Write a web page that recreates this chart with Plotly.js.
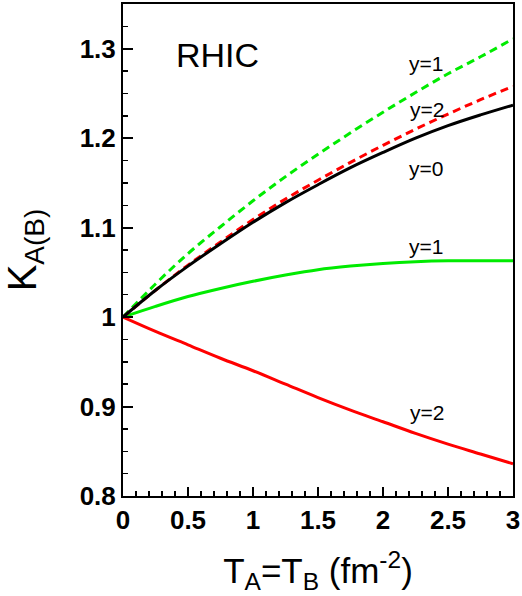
<!DOCTYPE html>
<html>
<head>
<meta charset="utf-8">
<script src="https://cdn.plot.ly/plotly-3.0.1.min.js"></script>
<style>html,body{margin:0;padding:0;background:#fff;}#plot{width:522px;height:596px;}</style>
</head>
<body>
<div id="plot"></div>
<script>
// T_A = T_B (fm^-2)
const tAB = [0, 0.25, 0.5, 0.75, 1.0, 1.25, 1.5, 1.75, 2.0, 2.25, 2.5, 2.75, 3.0];
// K_A(B) curves
const kY0 = [1.000, 1.030, 1.057, 1.082, 1.106, 1.128, 1.148, 1.167, 1.184, 1.200, 1.214, 1.226, 1.237];
const kY1dash = [1.000, 1.037, 1.071, 1.101, 1.130, 1.157, 1.182, 1.206, 1.229, 1.251, 1.272, 1.291, 1.311];
const kY2dash = [1.000, 1.030, 1.058, 1.084, 1.109, 1.132, 1.153, 1.173, 1.192, 1.210, 1.227, 1.243, 1.258];
const kY1solid = [1.000, 1.012, 1.023, 1.032, 1.040, 1.047, 1.053, 1.057, 1.060, 1.062, 1.063, 1.063, 1.063];
const kY2solid = [1.000, 0.984, 0.969, 0.954, 0.940, 0.925, 0.910, 0.896, 0.883, 0.870, 0.858, 0.847, 0.836];

const labels = ["y=1", "y=2", "y=0", "y=1", "y=2"];
const labelX = [2.33, 2.34, 2.33, 2.33, 2.34];
const labelY = [1.283, 1.232, 1.166, 1.079, 0.893];

const GREEN = "rgb(0,235,0)";
const RED = "rgb(255,0,0)";
const FONT = "Arial, 'Liberation Sans', sans-serif";

const traces = [
  {x: tAB, y: kY1solid, mode: "lines", line: {color: GREEN, width: 3, shape: "spline"}},
  {x: tAB, y: kY2solid, mode: "lines", line: {color: RED, width: 3, shape: "spline"}},
  {x: tAB, y: kY1dash, mode: "lines", line: {color: GREEN, width: 3, dash: "8px,5px", shape: "spline"}},
  {x: tAB, y: kY2dash, mode: "lines", line: {color: RED, width: 3, dash: "8px,5px", shape: "spline"}},
  {x: tAB, y: kY0, mode: "lines", line: {color: "black", width: 3, shape: "spline"}}
];

const annotations = labels.map((t, i) => ({
  x: labelX[i], y: labelY[i], xref: "x", yref: "y", text: t, showarrow: false,
  xanchor: "center", yanchor: "middle", font: {family: FONT, size: 21, color: "black"}
}));
annotations.push({x: 0.73, y: 1.293, xref: "x", yref: "y", text: "RHIC", showarrow: false,
  xanchor: "center", yanchor: "middle", font: {family: FONT, size: 34, color: "black"}});

const layout = {
  width: 522, height: 596,
  margin: {l: 123, r: 9, t: 4, b: 100},
  paper_bgcolor: "white", plot_bgcolor: "white",
  showlegend: false,
  font: {family: FONT, color: "black"},
  xaxis: {
    range: [0, 3], dtick: 0.5, tick0: 0,
    ticks: "inside", ticklen: 9, tickwidth: 2, tickcolor: "black",
    minor: {dtick: 0.1, ticks: "inside", ticklen: 5, tickwidth: 1.5, tickcolor: "black"},
    showline: true, linecolor: "black", linewidth: 2, mirror: true,
    showgrid: false, zeroline: false,
    tickfont: {family: FONT, size: 26, weight: "bold", color: "black"},
    title: {text: "T<sub>A</sub>=T<sub>B</sub> (fm<sup>-2</sup>)", font: {family: FONT, size: 35, color: "black"}, standoff: 24}
  },
  yaxis: {
    range: [0.8, 1.35], dtick: 0.1, tick0: 0.8,
    ticks: "inside", ticklen: 10, tickwidth: 2, tickcolor: "black",
    minor: {dtick: 0.025, ticks: "inside", ticklen: 5, tickwidth: 1.5, tickcolor: "black"},
    showline: true, linecolor: "black", linewidth: 2, mirror: true,
    showgrid: false, zeroline: false,
    tickfont: {family: FONT, size: 26, weight: "bold", color: "black"},
    title: {text: "K<sub>A(B)</sub>", font: {family: FONT, size: 40, color: "black"}, standoff: 34}
  },
  annotations: annotations
};

Plotly.newPlot("plot", traces, layout, {staticPlot: true, displayModeBar: false});
</script>
</body>
</html>
